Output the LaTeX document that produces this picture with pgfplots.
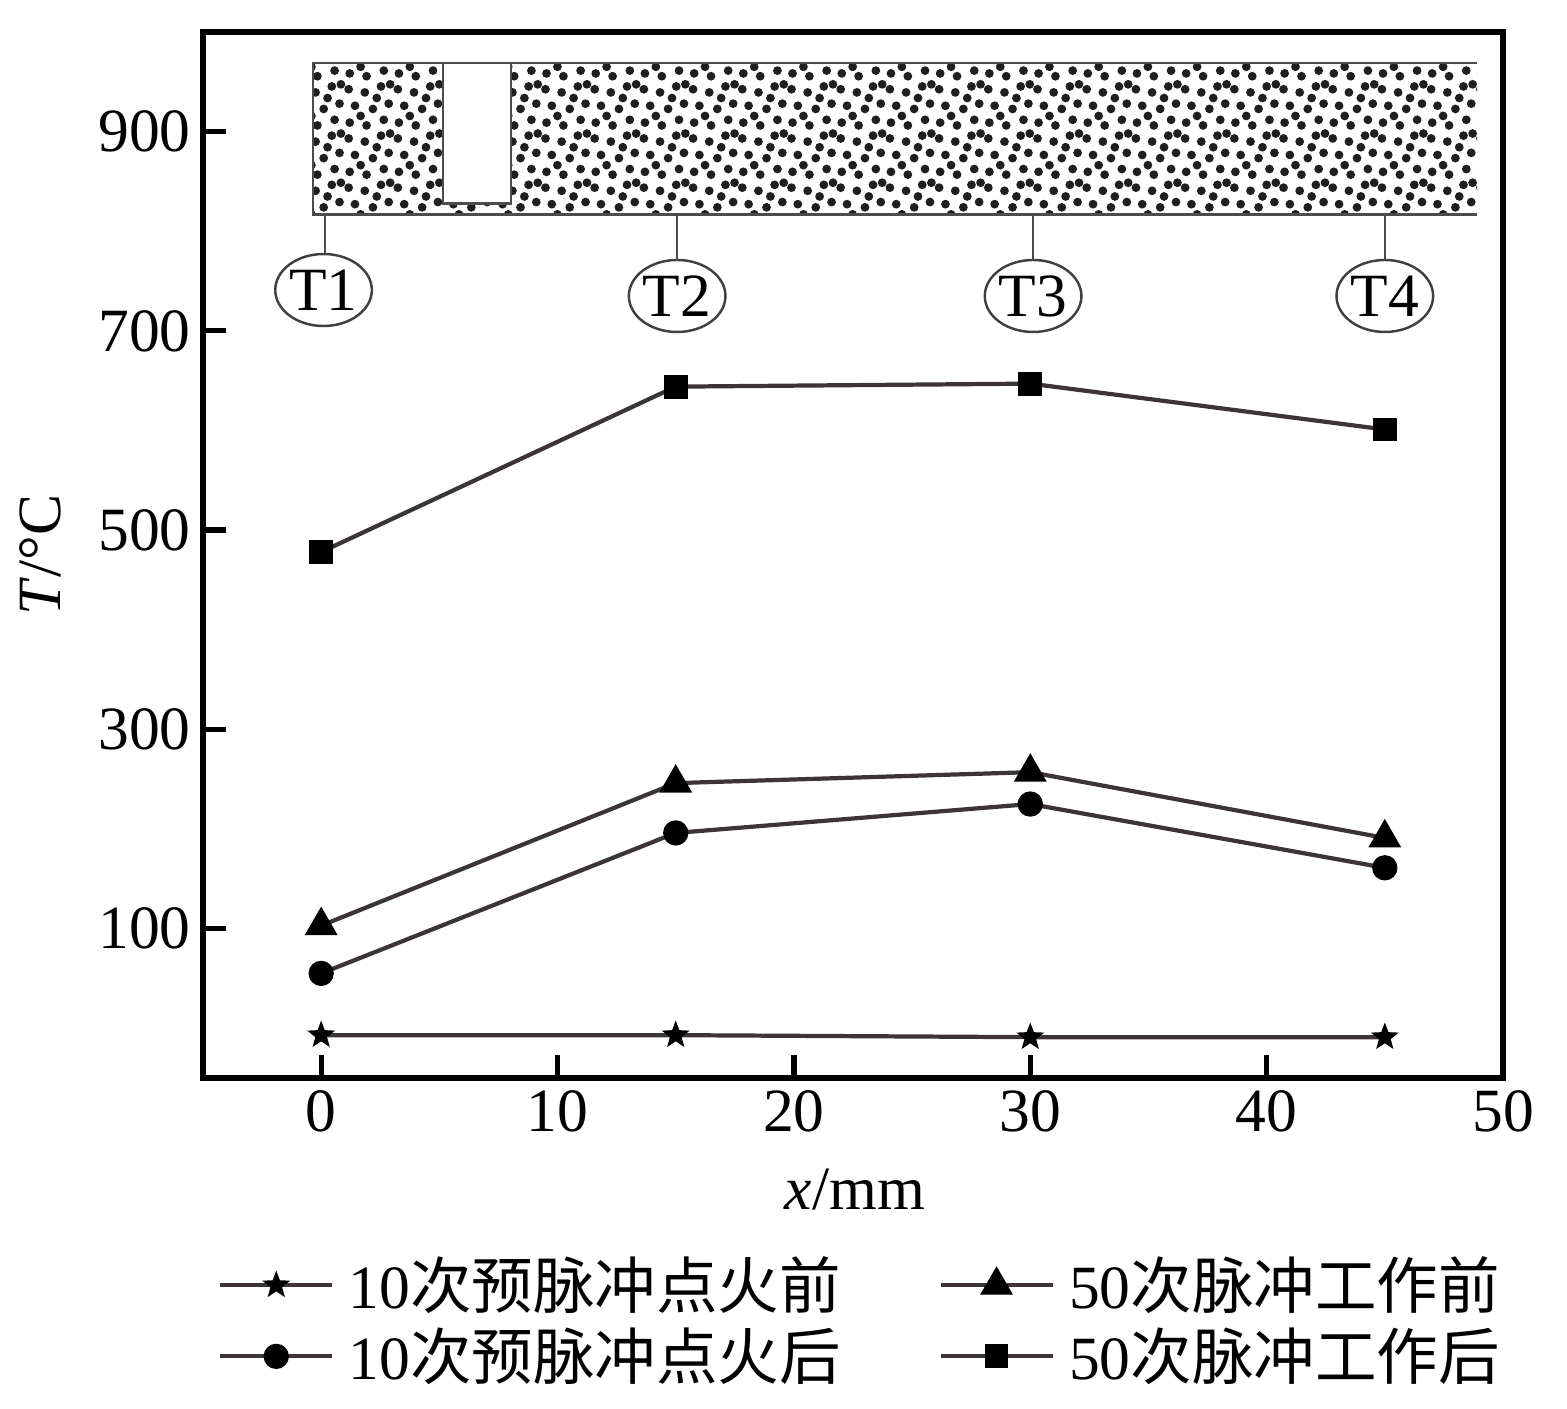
\documentclass[border=0pt]{standalone}
\usepackage{fontspec}
\setmainfont{Liberation Serif}
\newfontfamily\cjk{Noto Sans CJK SC}
\usepackage{pgfplots}
\pgfplotsset{compat=1.18}
\usetikzlibrary{patterns,shapes.geometric}

\definecolor{lc}{HTML}{3D3535}
\newcommand{\fs}{\fontsize{17.5}{21}\selectfont}

\pgfdeclareplotmark{fstar}{%
  \pgfpathmoveto{\pgfpointpolar{90}{\pgfplotmarksize}}%
  \pgfpathlineto{\pgfpointpolar{126}{0.42\pgfplotmarksize}}%
  \pgfpathlineto{\pgfpointpolar{162}{\pgfplotmarksize}}%
  \pgfpathlineto{\pgfpointpolar{198}{0.42\pgfplotmarksize}}%
  \pgfpathlineto{\pgfpointpolar{234}{\pgfplotmarksize}}%
  \pgfpathlineto{\pgfpointpolar{270}{0.42\pgfplotmarksize}}%
  \pgfpathlineto{\pgfpointpolar{306}{\pgfplotmarksize}}%
  \pgfpathlineto{\pgfpointpolar{342}{0.42\pgfplotmarksize}}%
  \pgfpathlineto{\pgfpointpolar{18}{\pgfplotmarksize}}%
  \pgfpathlineto{\pgfpointpolar{54}{0.42\pgfplotmarksize}}%
  \pgfpathclose
  \pgfusepathqfillstroke
}

\pgfdeclarepatternformonly{granules}{\pgfqpoint{-1.5pt}{-1.5pt}}{\pgfqpoint{15.5pt}{15.5pt}}{\pgfqpoint{14pt}{14pt}}{%
  \pgfpathcircle{\pgfqpoint{1.5pt}{2.0pt}}{1.25pt}
  \pgfpathcircle{\pgfqpoint{6.3pt}{1.2pt}}{1.25pt}
  \pgfpathcircle{\pgfqpoint{11.2pt}{2.8pt}}{1.25pt}
  \pgfpathcircle{\pgfqpoint{3.0pt}{6.8pt}}{1.25pt}
  \pgfpathcircle{\pgfqpoint{8.1pt}{5.9pt}}{1.25pt}
  \pgfpathcircle{\pgfqpoint{12.6pt}{7.4pt}}{1.25pt}
  \pgfpathcircle{\pgfqpoint{1.2pt}{11.5pt}}{1.25pt}
  \pgfpathcircle{\pgfqpoint{5.8pt}{10.6pt}}{1.25pt}
  \pgfpathcircle{\pgfqpoint{10.4pt}{12.3pt}}{1.25pt}
  \pgfpathcircle{\pgfqpoint{9.2pt}{9.0pt}}{1.25pt}
  \pgfpathcircle{\pgfqpoint{4.6pt}{3.9pt}}{1.25pt}
  \pgfpathcircle{\pgfqpoint{13.0pt}{12.9pt}}{1.25pt}
  \pgfusepath{fill}
}

\begin{document}
\begin{tikzpicture}
\path[use as bounding box] (-2.03,-3.31) rectangle (13.64,10.78);
\begin{axis}[
  at={(0,0)}, anchor=south west,
  scale only axis, width=13cm, height=10.46cm,
  xmin=-5, xmax=50, ymin=-50, ymax=1000,
  xtick={0,10,20,30,40,50}, ytick={100,300,500,700,900},
  tick pos=left, tick align=inside,
  major tick length=0.23cm,
  every tick/.style={line width=1.5pt, black},
  axis line style={line width=1.8pt, black},
  tick label style={font=\fs},
  /pgf/number format/assume math mode=true,
  xlabel={\textit{x}/mm}, ylabel={\textit{T}/°C},
  label style={font=\fs},
  xlabel style={at={(axis description cs:0.5015,-0.107)}, anchor=center},
  ylabel style={at={(axis description cs:-0.125,0.5)}, anchor=center},
  legend columns=2,
  legend cell align=left,
  legend style={at={(axis description cs:0.003,-0.16)}, anchor=north west,
    draw=none, fill=none, font=\fs,
    nodes={inner sep=1pt},
    row sep=2pt,
    /tikz/every odd column/.append style={column sep=0.11cm},
    /tikz/every even column/.append style={column sep=0.94cm}},
  legend image code/.code={%
    \draw[mark repeat=2,mark phase=2,#1] plot coordinates {(0cm,0cm) (0.56cm,0cm) (1.12cm,0cm)};},
  every axis plot/.append style={line width=1.2pt, color=lc,
    mark options={fill=black, draw=black, solid, line width=0.4pt}},
]
\addplot[mark=fstar, mark size=3.6pt] coordinates {(0,-7) (15,-7) (30,-9) (45,-9)};
\addlegendentry{10{\cjk 次预脉冲点火前}}
\addplot[mark=triangle*, mark size=5pt] coordinates {(0,103) (15,246) (30,257) (45,191)};
\addlegendentry{50{\cjk 次脉冲工作前}}
\addplot[mark=*, mark size=3.4pt] coordinates {(0,55) (15,196) (30,225) (45,161)};
\addlegendentry{10{\cjk 次预脉冲点火后}}
\addplot[mark=square*, mark size=3.2pt] coordinates {(0,478) (15,644) (30,647) (45,601)};
\addlegendentry{50{\cjk 次脉冲工作后}}

% schematic of the chamber
\fill[pattern=granules, pattern color=black!88] (-0.34,817) rectangle (48.9,969);
\draw[gray!60!black, line width=0.7pt] (48.9,969) -- (-0.34,969) -- (-0.34,817) -- (48.9,817);
\filldraw[fill=white, draw=gray!60!black, line width=0.7pt] (5.16,828) rectangle (8.04,969);
\tikzset{tlab/.style={draw=gray!50!black, ellipse, minimum width=0.92cm, minimum height=0.72cm, inner sep=0pt, font=\fs, line width=0.7pt}}
\node[tlab] at (0.1,741) {T1};
\node[tlab] at (15.06,735) {T2};
\node[tlab] at (30.12,735) {T3};
\node[tlab] at (45.0,735) {T4};
\draw[gray!60!black, line width=0.7pt] (0.17,817) -- (0.17,777);
\draw[gray!60!black, line width=0.7pt] (15.06,817) -- (15.06,771);
\draw[gray!60!black, line width=0.7pt] (30.12,817) -- (30.12,771);
\draw[gray!60!black, line width=0.7pt] (45.0,817) -- (45.0,771);
\end{axis}
\end{tikzpicture}
\end{document}
